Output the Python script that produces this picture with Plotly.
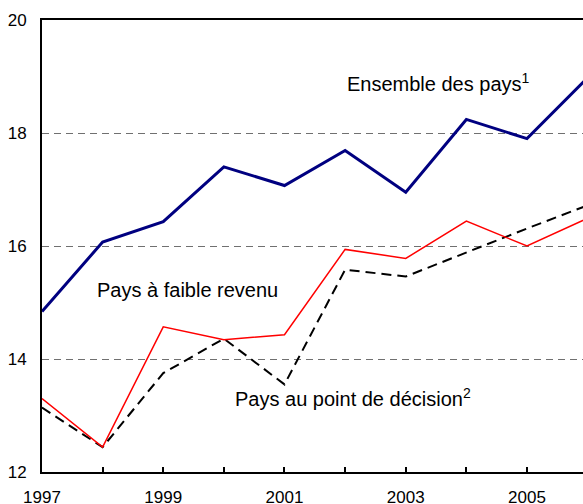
import plotly.graph_objects as go

years = [1997, 1998, 1999, 2000, 2001, 2002, 2003, 2004, 2005, 2006]
ensemble = [14.84, 16.07, 16.43, 17.40, 17.07, 17.69, 16.95, 18.24, 17.90, 18.98]
faible_revenu = [13.30, 12.44, 14.57, 14.34, 14.43, 15.94, 15.78, 16.44, 16.00, 16.49]
point_decision = [13.14, 12.44, 13.75, 14.36, 13.55, 15.58, 15.46, 15.89, 16.31, 16.72]

y_ticks = [12, 14, 16, 18, 20]
x_ticks = [1997, 1999, 2001, 2003, 2005]

labels = ["Ensemble des pays<sup>1</sup>", "Pays à faible revenu",
          "Pays au point de décision<sup>2</sup>"]

fig = go.Figure()
fig.add_trace(go.Scatter(x=years, y=point_decision, mode="lines",
                         line=dict(color="#000000", width=2, dash="10px,6px")))
fig.add_trace(go.Scatter(x=years, y=faible_revenu, mode="lines",
                         line=dict(color="#FF0000", width=1.5)))
fig.add_trace(go.Scatter(x=years, y=ensemble, mode="lines",
                         line=dict(color="#000080", width=3)))

font = "Liberation Sans, Arial, sans-serif"
fig.add_annotation(x=2002.0, y=18.89, xref="x", yref="y", text=labels[0],
                   showarrow=False, xanchor="left", font=dict(size=20, color="#000", family=font))
fig.add_annotation(x=1997.87, y=15.23, xref="x", yref="y", text=labels[1],
                   showarrow=False, xanchor="left", font=dict(size=20, color="#000", family=font))
fig.add_annotation(x=2000.15, y=13.31, xref="x", yref="y", text=labels[2],
                   showarrow=False, xanchor="left", font=dict(size=20, color="#000", family=font))

fig.update_layout(
    width=583, height=504,
    margin=dict(l=42, r=0, t=20, b=32, autoexpand=False),
    paper_bgcolor="white", plot_bgcolor="white",
    showlegend=False,
    font=dict(family=font, size=17, color="#000"),
)
fig.update_xaxes(range=[1997, 2005.924], tickvals=x_ticks, ticks="inside", ticklen=5,
                 tickwidth=1.5, tickcolor="#000", automargin=False,
                 minor=dict(dtick=1, tick0=1997, ticks="inside", ticklen=5, tickwidth=1.5, tickcolor="#000", showgrid=False),
                 showline=True, linecolor="#000", linewidth=2, mirror=True,
                 showgrid=False, zeroline=False, ticklabelstandoff=9)
fig.update_yaxes(range=[12, 20], tickvals=y_ticks, ticks="", showline=True, automargin=False,
                 linecolor="#000", linewidth=2, mirror=True,
                 showgrid=True, gridcolor="#707070", gridwidth=1, griddash="7px,5px",
                 zeroline=False, ticklabelstandoff=10)

fig.write_html("out.html", config={"displayModeBar": False},
               post_script="document.body.style.margin='0';document.body.style.overflow='hidden';")
